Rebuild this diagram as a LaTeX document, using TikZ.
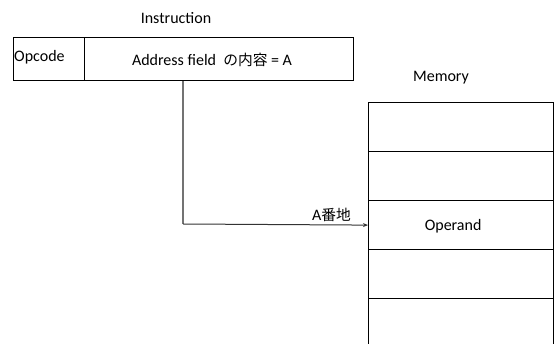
\documentclass[tikz,border=0pt]{standalone}
\usepackage{fontspec}
\setmainfont{Carlito}
\newfontfamily\cjk{Noto Sans CJK JP}[Scale=0.92]
\usetikzlibrary{arrows.meta}
\begin{document}
\begin{tikzpicture}[x=1pt,y=-1pt,
  box/.style={draw=black,line width=1.2pt,minimum width=185pt,minimum height=49pt,inner sep=0pt,anchor=north west,font=\fontsize{16}{19}\selectfont},
  lbl/.style={font=\fontsize{16}{19}\selectfont,inner sep=1pt},
  conn/.style={draw=black!55,line width=1.3pt},
  arr/.style={-{Stealth[length=5pt,width=4pt]},draw=black!80,line width=1pt}]
\useasboundingbox (0,0) rectangle (557,344);
\clip (0,0) rectangle (557,344);
% Instruction
\node[lbl] (title) at (176,18) {Instruction};
\node[draw=black,line width=1.2pt,minimum width=71pt,minimum height=43pt,inner sep=0pt,anchor=north west] (op) at (13,37) {};
\node[draw=black,line width=1.2pt,minimum width=269pt,minimum height=43pt,inner sep=0pt,anchor=north west] (addr) at (84,37) {};
\node[lbl,anchor=west] (optext) at (13,57) {Opcode};
\node[lbl] (addrtext) at (212,60) {Address field\ \ {\cjk の内容} = A};
% Memory
\node[lbl] (memtitle) at (441,78) {Memory};
\node[box] (m1) at (368,102) {};
\node[box] (m2) at (368,151) {};
\node[box] (m3) at (368,200) {};
\node[box] (m4) at (368,249) {};
\node[box] (m5) at (368,298) {};
\node[lbl] (operand) at ([xshift=-8pt,yshift=-1pt]m3.center) {Operand};
% connector
\coordinate (corner) at (183,224);
\draw[conn] (addr.south -| corner) -- (corner);
\draw[arr] (corner) -- (m3.west);
\node[lbl,anchor=south east] (alabel) at (352,223) {A{\cjk 番地}};
\end{tikzpicture}
\end{document}
